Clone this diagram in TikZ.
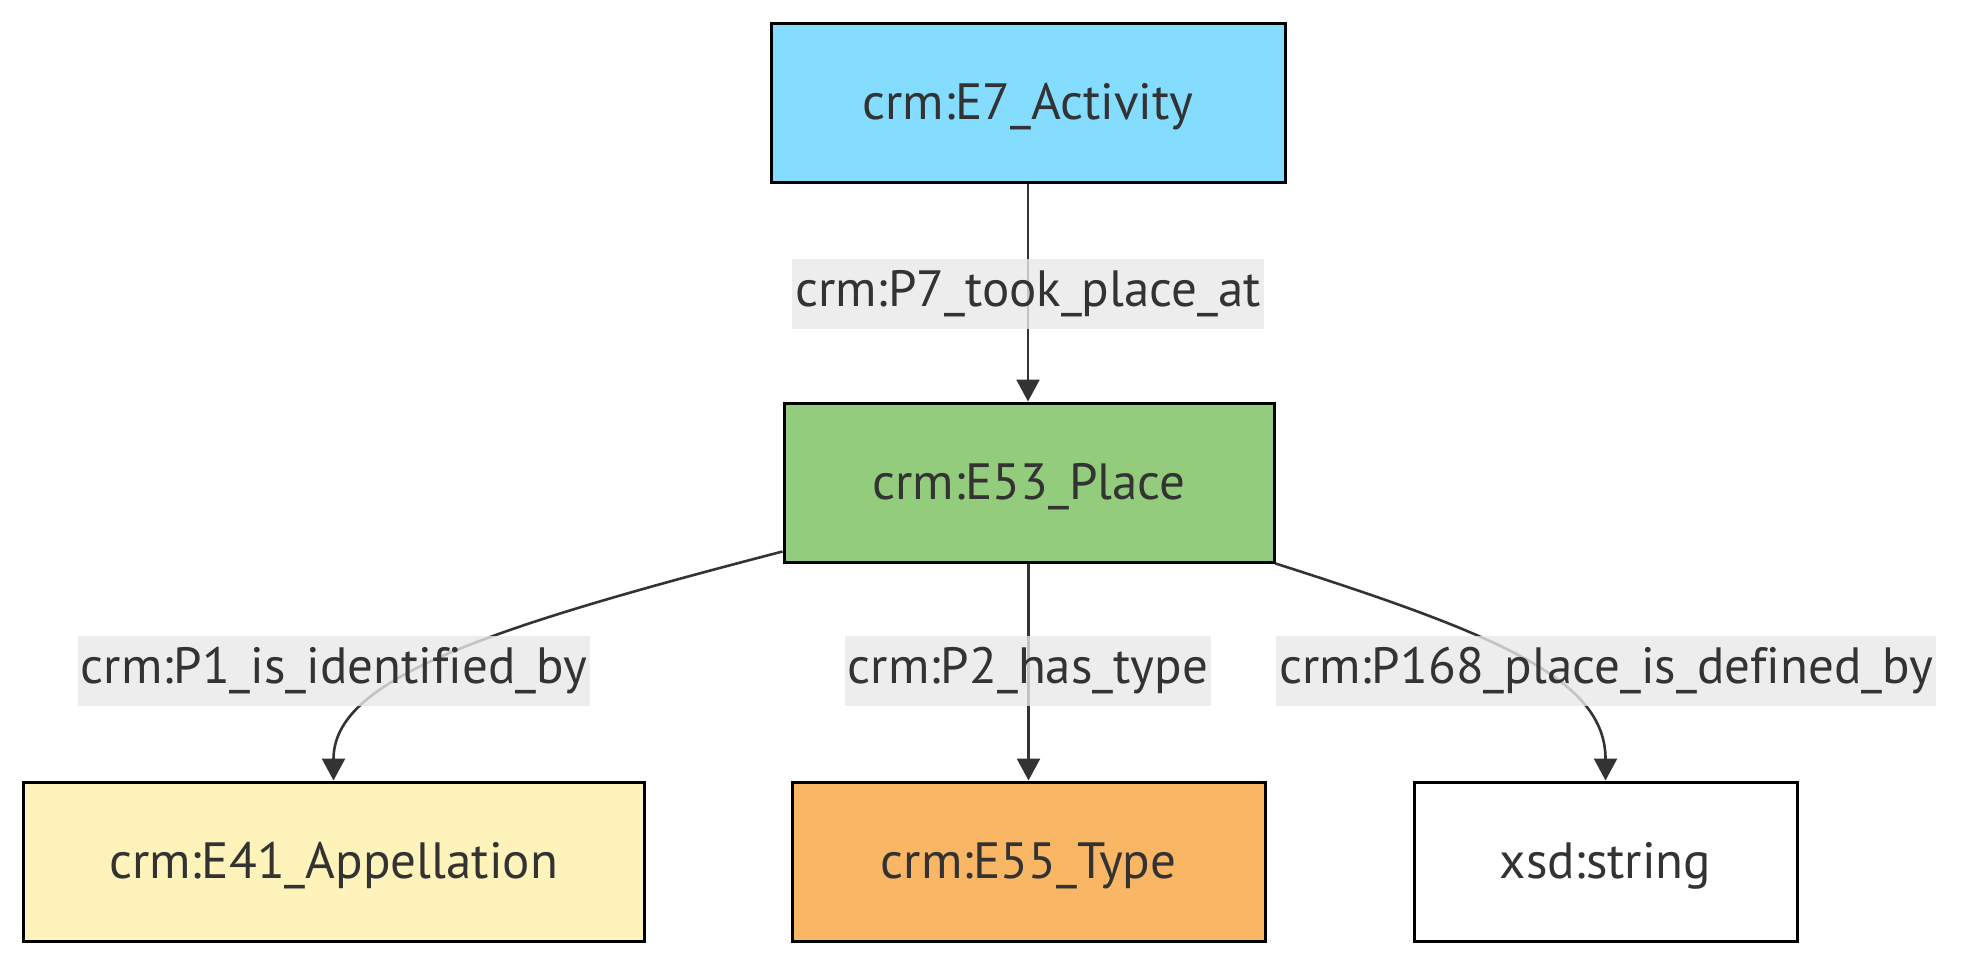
\documentclass[tikz,border=0pt]{standalone}
\usepackage{fontspec}
\setmainfont{PT Sans}[Ligatures=NoCommon]
\usetikzlibrary{arrows.meta}
\definecolor{txt}{HTML}{333333}
\definecolor{edgecol}{HTML}{333333}
\definecolor{lblgray}{HTML}{E8E8E8}
\definecolor{cblue}{HTML}{84DCFF}
\definecolor{cgreen}{HTML}{94CC7D}
\definecolor{cyellow}{HTML}{FEF3BA}
\definecolor{corange}{HTML}{F9B664}
\tikzset{
  box/.style={draw=black, line width=3pt, rectangle, minimum height=159pt, inner sep=0pt,
    text=txt, font=\fontsize{51}{60}\selectfont, text height=38pt, text depth=4pt},
  elabel/.style={fill=lblgray, fill opacity=0.8, text opacity=1, text=txt, inner sep=3pt,
    minimum height=70pt, font=\fontsize{51}{60}\selectfont},
  conn/.style={draw=edgecol, line width=2.6pt, -{Triangle[length=22pt,width=23pt]}},
}
\begin{document}
\begin{tikzpicture}[x=1pt,y=-1pt]
\useasboundingbox (0,0) rectangle (1983,978);
\node[box, fill=cblue, minimum width=514pt] (e7) at (1028,102.5) {crm:E7\_Activity};
\node[box, fill=cgreen, minimum width=490pt] (e53) at (1029,482.5) {crm:E53\_Place};
\node[box, fill=cyellow, minimum width=621pt] (e41) at (333.5,861.5) {crm:E41\_Appellation};
\node[box, fill=corange, minimum width=473pt] (e55) at (1028.5,861.5) {crm:E55\_Type};
\node[box, fill=white, minimum width=383pt] (xsd) at (1605.5,861.5) {xsd:string};

\draw[conn] (e7.south) -- (e7.south |- e53.north);
\draw[conn] (e53.south -| e55.north) -- (e55.north);
\draw[conn] ([yshift=12pt]e53.south west) .. controls (480,630) and (e41.north |- 0,680) .. (e41.north);
\draw[conn] (e53.south east) .. controls (1500,635) and (xsd.north |- 0,680) .. (xsd.north);

\node[elabel] (l7) at (1028,294) {crm:P7\_took\_place\_at};
\node[elabel] (l1) at (334,671) {crm:P1\_is\_identified\_by};
\node[elabel] (l2) at (1028,671) {crm:P2\_has\_type};
\node[elabel] (l168) at (1606,671) {crm:P168\_place\_is\_defined\_by};
\end{tikzpicture}
\end{document}
